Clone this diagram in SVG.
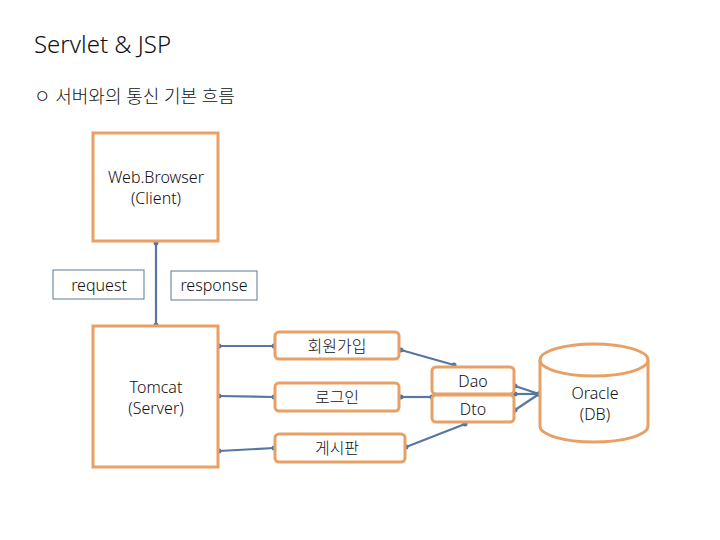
<svg xmlns="http://www.w3.org/2000/svg" width="720" height="540" viewBox="0 0 720 540">
<style>
text{font-family:"Noto Sans","Noto Sans CJK KR",sans-serif;fill:#111;font-weight:300}
.n{fill:#fff;stroke:#e8a064;stroke-width:3}
.l{fill:#fff;stroke:#5b7a94;stroke-width:1}
.c{stroke:#5577a0;stroke-width:2.2;fill:none}
</style>
<defs><marker id="d" markerWidth="6" markerHeight="6" refX="3" refY="3" markerUnits="userSpaceOnUse"><circle cx="3" cy="3" r="2.5" fill="#5577a0"/></marker></defs>
<text x="34" y="53" font-size="24">Servlet &amp; JSP</text>
<text x="34" y="103" font-size="18">ㅇ 서버와의 통신 기본 흐름</text>
<g id="connectors" marker-start="url(#d)" marker-end="url(#d)">
<path class="c" d="M156,243 V325" marker-start="url(#d)" marker-end="url(#d)"/>
<path class="c" d="M219,346 H274" marker-start="url(#d)" marker-end="url(#d)"/>
<path class="c" d="M219,396 L274,397" marker-start="url(#d)" marker-end="url(#d)"/>
<path class="c" d="M219,451 L274,448" marker-start="url(#d)" marker-end="url(#d)"/>
<path class="c" d="M454,365 L401,350" marker-end="url(#d)"/>
<path class="c" d="M432,397 H401" marker-end="url(#d)"/>
<path class="c" d="M465,424 L406,447" marker-end="url(#d)"/>
<path class="c" d="M515,386 L539,394" marker-end="url(#d)"/>
<path class="c" d="M515,410 L539,394" marker-end="url(#d)"/>
<path class="c" d="M515,394 H539" marker-end="url(#d)"/>
</g>
<g id="browser"><rect class="n" x="93" y="133" width="125" height="108"/><text x="156" y="183" font-size="16" text-anchor="middle">Web.Browser</text><text x="156" y="204" font-size="16" text-anchor="middle">(Client)</text></g>
<g id="request"><rect class="l" x="53" y="270" width="91" height="29"/><text x="99" y="291" font-size="16" text-anchor="middle">request</text></g>
<g id="response"><rect class="l" x="171" y="271" width="86" height="29"/><text x="214" y="291" font-size="16" text-anchor="middle">response</text></g>
<g id="tomcat"><rect class="n" x="93" y="326" width="125" height="141"/><text x="156" y="393" font-size="16" text-anchor="middle">Tomcat</text><text x="156" y="414" font-size="16" text-anchor="middle">(Server)</text></g>
<g id="join"><rect class="n" x="275" y="332" width="124" height="27" rx="4"/><text x="337" y="352" font-size="16" text-anchor="middle">회원가입</text></g>
<g id="login"><rect class="n" x="275" y="383" width="124" height="28" rx="4"/><text x="337" y="403" font-size="16" text-anchor="middle">로그인</text></g>
<g id="board"><rect class="n" x="275" y="434" width="130" height="28" rx="4"/><text x="337" y="454" font-size="16" text-anchor="middle">게시판</text></g>
<g id="dao"><rect class="n" x="432" y="367" width="82" height="27" rx="4"/><text x="473" y="387" font-size="16" text-anchor="middle">Dao</text></g>
<g id="dto"><rect class="n" x="432" y="395" width="82" height="27" rx="4"/><text x="473" y="415" font-size="16" text-anchor="middle">Dto</text></g>
<g id="db"><path class="n" d="M540,360 V426 A54,16 0 0 0 648,426 V360"/><ellipse class="n" cx="594" cy="360" rx="54" ry="16"/><text x="595" y="399" font-size="16" text-anchor="middle">Oracle</text><text x="595" y="420" font-size="16" text-anchor="middle">(DB)</text></g>
</svg>
